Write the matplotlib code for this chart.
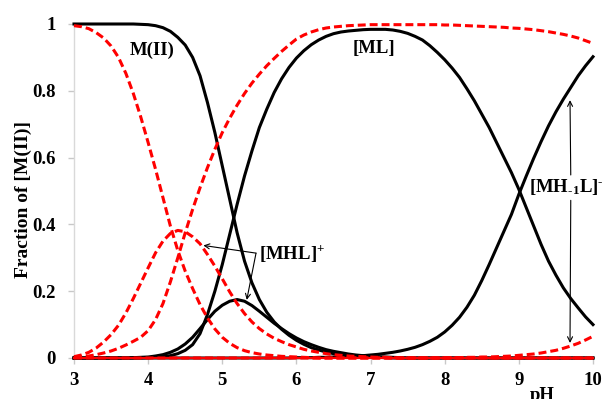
import matplotlib
matplotlib.use('Agg')
import matplotlib.pyplot as plt

# ---------------- data (pH 3.0 .. 10.0 every 0.1) ----------------
pH = [round(3.0 + 0.1 * i, 1) for i in range(71)]

# black solid system
black_M = [1.0, 1.0, 1.0, 1.0, 1.0, 1.0, 1.0, 1.0, 1.0, 0.999,
           0.998, 0.995, 0.989, 0.978, 0.96, 0.937, 0.9, 0.845, 0.765, 0.675,
           0.575, 0.475, 0.375, 0.29, 0.225, 0.175, 0.137, 0.108, 0.086, 0.068,
           0.053, 0.041, 0.031, 0.024, 0.018, 0.013, 0.01, 0.007, 0.005, 0.004,
           0.003, 0.002, 0.001, 0.0, 0.0, 0.0, 0.0, 0.0, 0.0, 0.0,
           0.0, 0.0, 0.0, 0.0, 0.0, 0.0, 0.0, 0.0, 0.0, 0.0,
           0.0, 0.0, 0.0, 0.0, 0.0, 0.0, 0.0, 0.0, 0.0, 0.0,
           0.0]
black_MHL = [0.0, 0.0, 0.0, 0.0, 0.0, 0.0, 0.0, 0.0, 0.001, 0.002,
             0.003, 0.006, 0.01, 0.017, 0.027, 0.042, 0.062, 0.088, 0.115, 0.14,
             0.158, 0.17, 0.175, 0.17, 0.157, 0.14, 0.122, 0.104, 0.088, 0.073,
             0.06, 0.049, 0.04, 0.032, 0.025, 0.02, 0.016, 0.012, 0.009, 0.007,
             0.005, 0.004, 0.003, 0.002, 0.001, 0.0, 0.0, 0.0, 0.0, 0.0,
             0.0, 0.0, 0.0, 0.0, 0.0, 0.0, 0.0, 0.0, 0.0, 0.0,
             0.0, 0.0, 0.0, 0.0, 0.0, 0.0, 0.0, 0.0, 0.0, 0.0,
             0.0]
black_ML = [0.0, 0.0, 0.0, 0.0, 0.0, 0.0, 0.0, 0.0, 0.0, 0.0,
            0.001, 0.002, 0.004, 0.007, 0.013, 0.023, 0.04, 0.073, 0.13, 0.2,
            0.28, 0.37, 0.46, 0.545, 0.62, 0.69, 0.745, 0.795, 0.836, 0.87,
            0.898, 0.92, 0.938, 0.952, 0.963, 0.971, 0.976, 0.979, 0.981, 0.983,
            0.984, 0.984, 0.984, 0.982, 0.978, 0.972, 0.963, 0.952, 0.935, 0.915,
            0.893, 0.868, 0.84, 0.806, 0.77, 0.73, 0.69, 0.645, 0.6, 0.555,
            0.505, 0.45, 0.395, 0.34, 0.29, 0.248, 0.21, 0.178, 0.15, 0.123,
            0.1]
black_MH1L = [0.0, 0.0, 0.0, 0.0, 0.0, 0.0, 0.0, 0.0, 0.0, 0.0,
              0.0, 0.0, 0.0, 0.0, 0.0, 0.0, 0.0, 0.0, 0.0, 0.0,
              0.0, 0.0, 0.0, 0.0, 0.0, 0.0, 0.0, 0.0, 0.0, 0.0,
              0.001, 0.001, 0.001, 0.002, 0.002, 0.003, 0.004, 0.005, 0.006, 0.007,
              0.009, 0.011, 0.014, 0.017, 0.021, 0.026, 0.032, 0.04, 0.05, 0.062,
              0.078, 0.098, 0.122, 0.152, 0.188, 0.232, 0.28, 0.33, 0.38, 0.43,
              0.49, 0.545, 0.598, 0.648, 0.695, 0.737, 0.775, 0.81, 0.845, 0.875,
              0.902]

# red dashed system
red_M = [0.995, 0.992, 0.986, 0.974, 0.958, 0.934, 0.9, 0.852, 0.792, 0.722,
         0.645, 0.565, 0.48, 0.395, 0.322, 0.26, 0.208, 0.16, 0.12, 0.087,
         0.062, 0.044, 0.031, 0.022, 0.016, 0.012, 0.009, 0.007, 0.005, 0.004,
         0.003, 0.002, 0.001, 0.0, 0.0, 0.0, 0.0, 0.0, 0.0, 0.0,
         0.0, 0.0, 0.0, 0.0, 0.0, 0.0, 0.0, 0.0, 0.0, 0.0,
         0.0, 0.0, 0.0, 0.0, 0.0, 0.0, 0.0, 0.0, 0.0, 0.0,
         0.0, 0.0, 0.0, 0.0, 0.0, 0.0, 0.0, 0.0, 0.0, 0.0,
         0.0]
red_MHL = [0.004, 0.009, 0.017, 0.03, 0.048, 0.07, 0.098, 0.135, 0.178, 0.224,
           0.27, 0.315, 0.35, 0.373, 0.382, 0.378, 0.363, 0.342, 0.31, 0.275,
           0.237, 0.198, 0.163, 0.133, 0.108, 0.088, 0.072, 0.059, 0.049, 0.04,
           0.033, 0.026, 0.021, 0.017, 0.013, 0.01, 0.008, 0.006, 0.005, 0.004,
           0.003, 0.002, 0.002, 0.001, 0.0, 0.0, 0.0, 0.0, 0.0, 0.0,
           0.0, 0.0, 0.0, 0.0, 0.0, 0.0, 0.0, 0.0, 0.0, 0.0,
           0.0, 0.0, 0.0, 0.0, 0.0, 0.0, 0.0, 0.0, 0.0, 0.0,
           0.0]
red_ML = [0.001, 0.003, 0.006, 0.01, 0.015, 0.021, 0.029, 0.039, 0.05, 0.062,
          0.082, 0.115, 0.163, 0.228, 0.3, 0.375, 0.445, 0.51, 0.57, 0.625,
          0.675, 0.718, 0.757, 0.792, 0.823, 0.85, 0.875, 0.897, 0.918, 0.937,
          0.955, 0.967, 0.976, 0.983, 0.988, 0.991, 0.993, 0.995, 0.996, 0.997,
          0.998, 0.998, 0.998, 0.998, 0.998, 0.998, 0.998, 0.998, 0.998, 0.998,
          0.997, 0.997, 0.996, 0.995, 0.994, 0.993, 0.992, 0.991, 0.99, 0.988,
          0.987, 0.985, 0.983, 0.98, 0.977, 0.973, 0.969, 0.964, 0.958, 0.95,
          0.942]
red_MH1L = [0.0, 0.0, 0.0, 0.0, 0.0, 0.0, 0.0, 0.0, 0.0, 0.0,
            0.0, 0.0, 0.0, 0.0, 0.0, 0.0, 0.0, 0.0, 0.0, 0.0,
            0.0, 0.0, 0.0, 0.0, 0.0, 0.0, 0.0, 0.0, 0.0, 0.0,
            0.0, 0.0, 0.0, 0.0, 0.0, 0.0, 0.0, 0.0, 0.0, 0.0,
            0.0, 0.0, 0.0, 0.0, 0.0, 0.0, 0.0, 0.0, 0.0, 0.0,
            0.0, 0.001, 0.001, 0.002, 0.002, 0.003, 0.003, 0.004, 0.005, 0.006,
            0.008, 0.01, 0.012, 0.015, 0.019, 0.023, 0.029, 0.036, 0.044, 0.054,
            0.065]

x_ticks = [3, 4, 5, 6, 7, 8, 9, 10]
y_ticks = [0, 0.2, 0.4, 0.6, 0.8, 1.0]
y_tick_labels = ['0', '0.2', '0.4', '0.6', '0.8', '1']

# ---------------- style ----------------
plt.rcParams['font.family'] = ['Liberation Serif', 'DejaVu Serif']
plt.rcParams['font.weight'] = 'bold'
plt.rcParams['mathtext.fontset'] = 'custom'
plt.rcParams['mathtext.rm'] = 'Liberation Serif:bold'
plt.rcParams['mathtext.it'] = 'Liberation Serif:bold'
plt.rcParams['mathtext.bf'] = 'Liberation Serif:bold'

FS = 13.5
RED = '#ff0000'

fig = plt.figure(figsize=(6.05, 3.99), dpi=100)
ax = fig.add_axes([74 / 605, 1 - 358 / 399, 519 / 605, 334 / 399])

for ys in (black_M, black_MHL, black_ML, black_MH1L):
    ax.plot(pH, ys, color='black', lw=2.2, clip_on=False, zorder=3,
            solid_joinstyle='round')
for ys in (red_M, red_MHL, red_ML, red_MH1L):
    ax.plot(pH, ys, color=RED, lw=2.2, dashes=(2.6, 1.3), clip_on=False, zorder=4)

ax.set_xlim(3, 10)
ax.set_ylim(0, 1)
ax.set_xticks(x_ticks)
ax.set_xticklabels([str(t) for t in x_ticks])
ax.set_yticks(y_ticks)
ax.set_yticklabels(y_tick_labels)

for s in ('top', 'right'):
    ax.spines[s].set_visible(False)
ax.spines['left'].set_color('#d9d9d9')
ax.spines['left'].set_linewidth(1.0)
ax.spines['bottom'].set_color(RED)
ax.spines['bottom'].set_linewidth(1.6)
ax.spines['bottom'].set_zorder(5)

ax.tick_params(axis='both', colors='#c8c8c8', labelcolor='black', length=4, width=1,
               direction='out', labelsize=FS)
ax.tick_params(axis='y', pad=9)
ax.tick_params(axis='x', pad=6)
for lab in ax.get_xticklabels() + ax.get_yticklabels():
    lab.set_fontweight('bold')

# axis titles
fig.text(23 / 605, 1 - 199 / 399, 'Fraction of [M(II)]', rotation=90, ha='center', va='center',
         fontsize=14, fontweight='bold')
fig.text(542 / 605, 1 - 387 / 399, 'pH', ha='center', va='top', fontsize=FS, fontweight='bold')

# labels
ax.text(4.06, 0.922, 'M(II)', ha='center', va='center', fontsize=FS, fontweight='bold')
ax.text(7.05, 0.927, '[ML]', ha='center', va='center', fontsize=FS, fontweight='bold')
ax.text(5.5, 0.314, '[MHL]$^{+}$', ha='left', va='center', fontsize=FS, fontweight='bold')
ax.text(9.14, 0.512, '[MH$_{\u2010 1}$L]$^{\u2010}$', ha='left', va='center', fontsize=FS,
        fontweight='bold', clip_on=False)

arrow_kw = dict(arrowstyle='->', color='black', lw=0.8, shrinkA=0, shrinkB=0,
                mutation_scale=9)
ax.annotate('', xy=(4.745, 0.337), xytext=(5.455, 0.314), arrowprops=arrow_kw)
ax.annotate('', xy=(5.33, 0.174), xytext=(5.455, 0.314), arrowprops=arrow_kw)
ax.annotate('', xy=(9.69, 0.772), xytext=(9.70, 0.548), arrowprops=arrow_kw)
ax.annotate('', xy=(9.69, 0.045), xytext=(9.70, 0.472), arrowprops=arrow_kw)

fig.savefig('out.png', dpi=100)
